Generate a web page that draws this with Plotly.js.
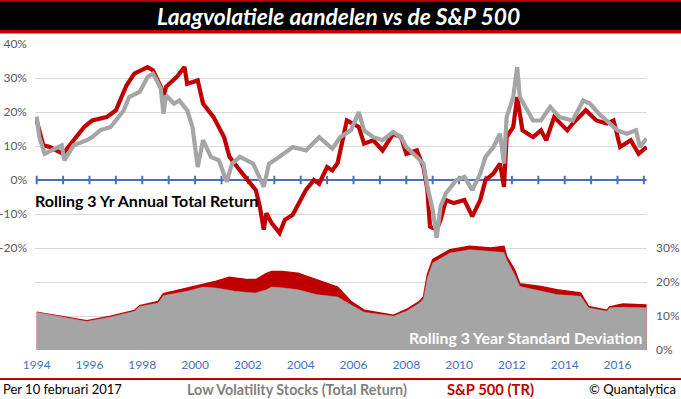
<!DOCTYPE html>
<html>
<head>
<meta charset="utf-8">
<script src="https://cdn.plot.ly/plotly-3.0.1.min.js"></script>
<style>html,body{margin:0;padding:0;background:#fff;}#chart{width:681px;height:399px;}</style>
</head>
<body>
<div id="chart"></div>
<script>
// ---- Data ----
// Rolling 3 yr annual total return, Low Volatility Stocks (gray)
var retYearsLV = [1994.0,1994.1,1994.3,1994.6,1994.95,1995.05,1995.4,1995.9,1996.1,1996.4,1996.8,1997.0,1997.3,1997.5,1997.9,1998.2,1998.4,1998.55,1998.7,1998.8,1998.9,1999.2,1999.4,1999.7,1999.9,2000.1,2000.3,2000.6,2000.9,2001.2,2001.4,2001.7,2002.2,2002.6,2002.8,2003.1,2003.5,2003.7,2004.2,2004.7,2005.2,2005.5,2005.9,2006.2,2006.4,2006.75,2007.1,2007.5,2007.8,2008.0,2008.4,2008.65,2008.8,2009.0,2009.15,2009.3,2009.5,2009.8,2009.9,2010.2,2010.5,2010.8,2011.0,2011.3,2011.55,2011.7,2011.8,2012.05,2012.2,2012.3,2012.6,2012.8,2013.1,2013.45,2013.8,2014.3,2014.7,2014.95,2015.3,2015.6,2016.0,2016.35,2016.7,2016.85,2017.1];
var retLV = [18.7,12.6,7.7,8.7,10.2,5.8,10.2,11.7,12.6,14.6,15.6,17.5,20.5,24.4,25.9,30.3,31.3,29.3,26.9,19.5,24.9,22.5,23.4,20.5,15.6,3.8,11.7,6.8,5.8,-0.5,4.8,6.8,4.8,-2.0,4.8,6.3,8.7,9.7,8.7,12.6,9.2,12.6,14.6,20.0,14.6,12.6,11.7,14.1,12.6,9.7,6.8,4.8,-2.0,-8.8,-17.0,-7.8,-3.9,-1.0,0.0,0.9,-3.0,1.9,6.8,9.7,13.6,4.8,18.5,24.4,33.2,24.4,20.5,17.5,17.5,21.5,18.5,17.5,23.4,22.5,19.5,17.5,14.6,13.6,14.6,9.7,12.2];
// Rolling 3 yr annual total return, S&P 500 TR (red)
var retYearsSP = [1994.0,1994.25,1994.5,1995.0,1995.4,1995.8,1996.1,1996.65,1997.0,1997.4,1997.7,1998.2,1998.4,1998.7,1998.8,1998.9,1999.3,1999.6,1999.7,2000.1,2000.3,2000.7,2001.1,2001.3,2001.7,2002.1,2002.3,2002.45,2002.6,2002.7,2002.9,2003.2,2003.4,2003.7,2004.0,2004.2,2004.5,2004.7,2005.0,2005.2,2005.4,2005.55,2005.75,2006.2,2006.4,2006.75,2007.1,2007.5,2007.8,2008.0,2008.4,2008.65,2008.8,2008.85,2008.9,2009.15,2009.3,2009.5,2009.8,2010.2,2010.5,2010.8,2011.0,2011.3,2011.55,2011.7,2011.8,2012.05,2012.2,2012.4,2012.8,2013.1,2013.3,2013.6,2014.1,2014.3,2014.8,2015.2,2015.6,2015.85,2016.1,2016.5,2016.8,2017.1];
var retSP = [17.5,10.2,9.7,7.7,11.7,15.6,17.5,18.5,20.5,27.8,31.3,33.2,32.3,27.4,24.4,27.4,30.3,33.2,28.3,29.3,22.5,18.5,12.6,6.8,2.8,-1.1,-3.0,-7.8,-14.6,-9.8,-12.7,-15.6,-11.7,-10.2,-5.9,-2.9,0.0,-1.1,3.8,2.8,5.0,11.0,17.5,15.6,10.7,11.7,8.7,13.6,12.6,7.7,8.7,3.8,-3.0,-8.8,-13.7,-14.6,-11.7,-5.9,-6.8,-5.9,-10.7,-5.9,0.0,1.9,4.8,-2.0,12.6,15.6,24.4,14.6,12.6,14.6,11.7,18.5,14.6,16.6,20.5,17.5,16.6,17.5,9.7,11.7,7.7,9.7];
// Rolling 3 year standard deviation
var sdYears = [1994.0,1994.9,1995.9,1996.8,1997.7,1997.9,1998.6,1998.8,1999.7,2000.3,2000.8,2001.3,2001.5,2002.0,2002.3,2002.7,2002.9,2003.3,2003.9,2004.6,2005.4,2005.9,2006.4,2007.4,2007.5,2008.0,2008.5,2008.65,2008.8,2009.0,2009.65,2010.4,2011.2,2011.7,2011.8,2012.1,2012.3,2013.1,2013.7,2014.6,2014.9,2015.6,2015.7,2016.2,2017.1];
var sdLV = [11.1,9.9,8.4,9.7,11.4,12.8,13.8,16.0,17.3,18.5,18.2,17.6,17.3,16.9,16.8,17.7,18.5,18.3,17.7,16.3,15.6,13.3,11.1,10.1,9.9,11.4,13.8,15.0,21.2,25.6,28.5,29.5,29.0,28.7,26.6,22.2,18.7,17.3,16.3,15.8,12.4,11.4,12.4,12.6,12.4];
var sdSP = [11.1,10.0,8.6,9.9,11.6,13.0,14.3,16.6,18.2,19.2,20.2,21.4,21.2,20.7,20.7,22.5,23.1,23.1,22.6,20.7,18.5,14.3,11.7,10.4,10.2,11.9,14.3,15.6,22.2,26.6,29.5,30.5,30.0,30.5,27.5,23.6,19.5,18.7,17.7,16.8,12.8,11.7,12.7,13.5,13.2];
// Axis ticks and labels
var yearTicks = [1994,1995,1996,1997,1998,1999,2000,2001,2002,2003,2004,2005,2006,2007,2008,2009,2010,2011,2012,2013,2014,2015,2016,2017];
var xLabelVals = [1994,1996,1998,2000,2002,2004,2006,2008,2010,2012,2014,2016];
var xLabelText = ['1994','1996','1998','2000','2002','2004','2006','2008','2010','2012','2014','2016'];
var yLeftVals = [40,30,20,10,0,-10,-20,-30,-40,-50];
var yLeftText = ['40%','30%','20%','10%','0%','-10%','-20%','','',''];
var yRightVals = [0,10,20,30];
var yRightText = ['0%','10%','20%','30%'];
var zeroLineX = [1994.0, 2017.1];
var zeroLineY = [0, 0];

// ---- Layout geometry ----
var W = 681, H = 399;
var M = {l:35, r:34, t:44, b:49, pad:0};
var PW = W - M.l - M.r, PH = H - M.t - M.b;
function px(x){ return (x - M.l) / PW; }
function py(y){ return (H - M.b - y) / PH; }

var RED = '#c00000', GRAY = '#a5a5a5', BLUE = '#4a6fb5';
var FONT = 'Lato, "Open Sans", sans-serif';

var traces = [
  {x: zeroLineX, y: zeroLineY, type:'scatter', mode:'lines', line:{color:BLUE, width:2.2}, hoverinfo:'skip', showlegend:false},
  {x: yearTicks, y: yearTicks.map(function(){return 0;}), type:'scatter', mode:'markers',
   marker:{symbol:'line-ns', size:6, line:{color:BLUE, width:2}}, hoverinfo:'skip', showlegend:false},
  {x: retYearsSP, y: retSP, type:'scatter', mode:'lines', name:'S&P 500 (TR)', line:{color:RED, width:4.2}, showlegend:false},
  {x: retYearsLV, y: retLV, type:'scatter', mode:'lines', name:'Low Volatility Stocks (Total Return)', line:{color:GRAY, width:4.2}, showlegend:false},
  {x: sdYears, y: sdSP, type:'scatter', mode:'lines', yaxis:'y2', fill:'tozeroy', fillcolor:RED, line:{color:RED, width:1.5}, showlegend:false},
  {x: sdYears, y: sdLV, type:'scatter', mode:'lines', yaxis:'y2', fill:'tozeroy', fillcolor:GRAY, line:{color:GRAY, width:0.5}, showlegend:false}
];

var layout = {
  width: W, height: H,
  margin: M,
  paper_bgcolor: '#ffffff', plot_bgcolor: '#ffffff',
  font: {family: FONT, size: 12, color: '#595959'},
  showlegend: false,
  xaxis: {range:[1993.936, 2017.117], tickmode:'array', tickvals:xLabelVals, ticktext:xLabelText,
          showgrid:false, zeroline:false, showline:false, ticks:'', fixedrange:true, ticklabelstandoff: 6,
          tickfont:{family:FONT, size:12, color:'#4472c4'}},
  yaxis: {range:[-50, 40], tickmode:'array', tickvals:yLeftVals, ticktext:yLeftText,
          showgrid:true, gridcolor:'#d9d9d9', gridwidth:1, zeroline:false, showline:false, ticks:'',
          ticklabelstandoff: 7, tickfont:{family:FONT, size:12, color:'#595959'}},
  yaxis2: {range:[0, 90], overlaying:'y', side:'right', anchor:'x', tickmode:'array', tickvals:yRightVals, ticktext:yRightText,
          showgrid:false, zeroline:false, showline:false, ticks:'', ticklabelstandoff: 8,
          tickfont:{family:FONT, size:12, color:'#595959'}},
  shapes: [
    {type:'rect', xref:'paper', yref:'paper', x0:px(0), x1:px(W), y0:py(33.5), y1:py(0), fillcolor:RED, line:{width:0}, layer:'above'},
    {type:'rect', xref:'paper', yref:'paper', x0:px(0), x1:px(W), y0:py(30), y1:py(1.7), fillcolor:'#000000', line:{width:0}, layer:'above'},
    {type:'rect', xref:'paper', yref:'paper', x0:px(0), x1:px(W), y0:py(380), y1:py(378), fillcolor:RED, line:{width:0}, layer:'above'}
  ],
  annotations: [
    {xref:'paper', yref:'paper', x:px(338), y:py(16), text:'<b><i>Laagvolatiele aandelen vs de S&P 500</i></b>', showarrow:false,
     font:{family:FONT, size:22.8, color:'#ffffff'}, xanchor:'center', yanchor:'middle'},
    {xref:'paper', yref:'paper', x:px(33), y:py(200), text:'<b>Rolling 3 Yr Annual Total Return</b>', showarrow:false,
     font:{family:FONT, size:16, color:'#000000'}, xanchor:'left', yanchor:'middle'},
    {xref:'paper', yref:'paper', x:px(645), y:py(337), text:'<b>Rolling 3 Year Standard Deviation</b>', showarrow:false,
     font:{family:FONT, size:15.8, color:'#ffffff'}, xanchor:'right', yanchor:'middle'},
    {xref:'paper', yref:'paper', x:px(1), y:py(389), text:'Per 10 februari 2017', showarrow:false,
     font:{family:FONT, size:13, color:'#000000'}, xanchor:'left', yanchor:'middle'},
    {xref:'paper', yref:'paper', x:px(297), y:py(389), text:'<b>Low Volatility Stocks (Total Return)</b>', showarrow:false,
     font:{family:FONT, size:14.3, color:'#7f7f7f'}, xanchor:'center', yanchor:'middle'},
    {xref:'paper', yref:'paper', x:px(490), y:py(389), text:'<b>S&P 500 (TR)</b>', showarrow:false,
     font:{family:FONT, size:14.8, color:RED}, xanchor:'center', yanchor:'middle'},
    {xref:'paper', yref:'paper', x:px(678), y:py(389), text:'© Quantalytica', showarrow:false,
     font:{family:FONT, size:13, color:'#000000'}, xanchor:'right', yanchor:'middle'}
  ]
};

Plotly.newPlot('chart', traces, layout, {staticPlot:true, displayModeBar:false});
</script>
</body>
</html>
